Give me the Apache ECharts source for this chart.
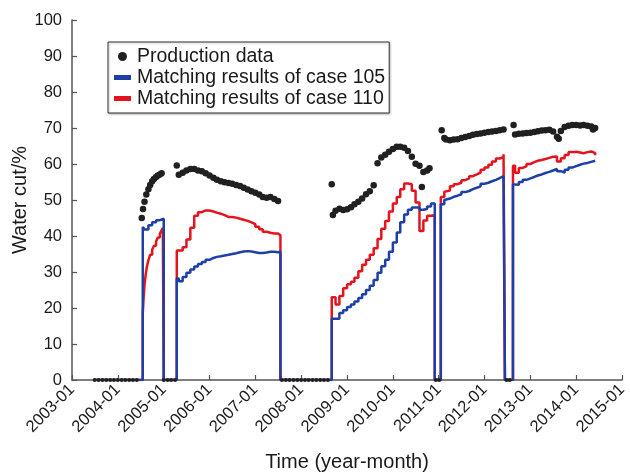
<!DOCTYPE html>
<html>
<head>
<meta charset="utf-8">
<style>
  html, body { margin: 0; padding: 0; background: #ffffff; }
  #chart { width: 630px; height: 472px; }
</style>
<script src="https://cdn.jsdelivr.net/npm/echarts@6/dist/echarts.min.js"></script>
</head>
<body>
<div id="chart"></div>
<script>
// Water cut history of the well: measured production data and two simulation cases.
const seriesNames = ['Production data', 'Matching results of case 105', 'Matching results of case 110'];

// Measured water cut (%), [date, value]
const productionData = [
  ['2003-07',0],['2003-08',0],['2003-09',0],['2003-10',0],['2003-11',0],['2003-12',0],
  ['2004-01',0],['2004-02',0],['2004-03',0],['2004-04',0],['2004-05',0],['2004-06',0],
  ['2004-07-10',45.0],['2004-07-20',47.5],['2004-08-01',49.5],['2004-08-15',51.5],['2004-09-01',53.0],
  ['2004-09-15',54.2],['2004-10-01',55.2],['2004-10-15',55.8],['2004-11-01',56.4],['2004-11-15',56.8],
  ['2004-12-01',57.1],['2004-12-15',57.4],
  ['2005-01',0],['2005-02',0],['2005-03',0],['2005-04',0],
  ['2005-04-15',59.6],['2005-05',57.0],['2005-06',57.6],['2005-07',58.2],['2005-08',58.6],['2005-09',58.6],
  ['2005-10',58.2],['2005-11',58.0],['2005-12',57.4],
  ['2006-01',56.8],['2006-02',56.2],['2006-03',55.6],['2006-04',55.2],['2006-05',54.9],['2006-06',54.7],
  ['2006-07',54.5],['2006-08',54.2],['2006-09',53.9],['2006-10',53.4],['2006-11',52.9],['2006-12',52.4],
  ['2007-01',52.0],['2007-02',51.5],['2007-03',50.8],['2007-04',50.6],['2007-05',50.8],['2007-06',50.3],
  ['2007-07',49.7],
  ['2007-08',0],['2007-09',0],['2007-10',0],['2007-11',0],['2007-12',0],['2008-01',0],['2008-02',0],
  ['2008-03',0],['2008-04',0],['2008-05',0],['2008-06',0],['2008-07',0],['2008-08',0],
  ['2008-09-01',54.4],['2008-09-10',45.8],['2008-10',47.0],['2008-11',47.6],['2008-12',47.2],
  ['2009-01',47.4],['2009-02',48.0],['2009-03',48.8],['2009-04',49.5],['2009-05',50.4],['2009-06',51.6],
  ['2009-07',52.4],['2009-08',54.1],['2009-09',60.2],['2009-10',61.8],['2009-11',62.6],['2009-12',63.4],
  ['2010-01',64.2],['2010-02',64.8],['2010-03',64.8],['2010-04',64.5],['2010-05',63.6],['2010-06',62.0],
  ['2010-07',60.1],['2010-08',59.5],['2010-08-20',53.6],['2010-09',57.8],['2010-10',58.2],['2010-10-20',58.8],
  ['2010-12-10',0],['2011-01-05',0],
  ['2011-01-25',69.4],['2011-02-15',67.2],['2011-03',66.8],['2011-04',66.6],['2011-05',66.8],['2011-06',66.9],
  ['2011-07',67.2],['2011-08',67.5],['2011-09',67.8],['2011-10',68.1],['2011-11',68.3],['2011-12',68.5],
  ['2012-01',68.7],['2012-02',68.9],['2012-03',69.0],['2012-04',69.2],['2012-05',69.4],['2012-06',69.6],
  ['2012-06-25',0],['2012-07-20',0],
  ['2012-08-20',70.8],['2012-09',68.2],['2012-10',68.4],['2012-11',68.5],['2012-12',68.6],
  ['2013-01',68.7],['2013-02',68.9],['2013-03',69.1],['2013-04',69.3],['2013-05',69.4],['2013-06',69.5],
  ['2013-07',69.0],['2013-08',67.6],['2013-08-15',67.0],['2013-09',69.2],['2013-10',70.3],['2013-11',70.6],
  ['2013-12',70.8],['2014-01',70.8],['2014-02',70.7],['2014-03',70.8],['2014-04',70.6],['2014-05',70.4],
  ['2014-05-15',69.6],['2014-06',70.0]
];

// Simulated water cut, case 105 (%), [date, value]
const case105 = [
  ['2003-07',0],
  ['2004-07-18',42.5],['2004-08',41.8],['2004-09',43.0],['2004-10',43.8],['2004-11',44.4],['2004-12',44.8],
  ['2005-01',0],
  ['2005-04-15',28.2],['2005-05',27.4],['2005-06',28.6],['2005-07',29.8],['2005-08',30.7],['2005-09',31.5],
  ['2005-10',32.2],['2005-11',32.8],['2005-12',33.4],
  ['2006-01',33.9],['2006-02',34.2],['2006-03',34.4],['2006-04',34.6],['2006-05',34.8],['2006-06',35.0],
  ['2006-07',35.2],['2006-08',35.5],['2006-09',35.7],['2006-10',35.8],['2006-11',35.7],['2006-12',35.5],
  ['2007-01',35.3],['2007-02',35.3],['2007-03',35.4],['2007-04',35.6],['2007-05',35.6],['2007-06',35.5],
  ['2007-07',35.6],
  ['2007-07-20',0],
  ['2008-09',17.0],['2008-10',17.0],['2008-11',18.6],['2008-12',19.4],
  ['2009-01',20.3],['2009-02',21.0],['2009-03',21.8],['2009-04',22.8],['2009-05',23.8],['2009-06',25.0],
  ['2009-07',26.2],['2009-08',27.8],['2009-09',29.8],['2009-10',31.6],['2009-11',33.4],['2009-12',35.6],
  ['2010-01',38.2],['2010-02',41.0],['2010-03',43.8],['2010-04',46.0],['2010-05',47.3],['2010-06',47.9],
  ['2010-07',47.9],['2010-08',47.3],['2010-09',47.5],['2010-10',48.2],['2010-11',49.0],
  ['2010-12',0],
  ['2011-01-18',48.8],['2011-02-15',50.0],['2011-03',50.4],['2011-04',50.9],['2011-05',51.2],['2011-06',51.6],
  ['2011-07',52.2],['2011-08',52.5],['2011-09',53.0],['2011-10',53.4],['2011-11',53.8],['2011-12',54.5],
  ['2012-01',54.8],['2012-02',55.2],['2012-03',55.6],['2012-04',56.1],['2012-05',56.6],['2012-06',57.1],
  ['2012-06-12',0],
  ['2012-08-15',54.3],['2012-09',54.2],['2012-10',55.0],['2012-11',55.6],['2012-12',56.0],
  ['2013-01',56.4],['2013-02',56.8],['2013-03',57.1],['2013-04',57.5],['2013-05',57.8],['2013-06',58.2],
  ['2013-07',58.6],['2013-08',58.0],['2013-09',57.6],['2013-10',58.4],['2013-11',59.0],['2013-12',59.4],
  ['2014-01',59.8],['2014-02',60.1],['2014-03',60.3],['2014-04',60.6],['2014-05',60.9],['2014-06',61.0]
];

// Simulated water cut, case 110 (%), [date, value]
const case110 = [
  ['2003-07',0],
  ['2004-07-18',18.5],['2004-07-25',23.0],['2004-08-01',26.5],['2004-08-10',29.2],['2004-08-20',31.5],
  ['2004-09-01',33.3],['2004-09-15',34.8],['2004-10-01',36.2],['2004-10-15',37.3],['2004-11-01',38.5],
  ['2004-11-15',39.6],['2004-12-01',40.6],['2004-12-15',41.6],['2004-12-25',42.2],
  ['2005-01',0],
  ['2005-04-15',36.0],['2005-05',36.0],['2005-06',36.9],['2005-07',39.0],['2005-08',42.3],['2005-09',45.6],
  ['2005-10',46.6],['2005-11',47.1],['2005-12',47.1],
  ['2006-01',46.8],['2006-02',46.5],['2006-03',46.2],['2006-04',45.8],['2006-05',45.3],['2006-06',45.3],
  ['2006-07',45.1],['2006-08',44.8],['2006-09',44.5],['2006-10',44.2],['2006-11',43.8],['2006-12',43.3],
  ['2007-01',42.6],['2007-02',41.9],['2007-03',41.2],['2007-04',40.9],['2007-05',40.7],['2007-06',40.7],
  ['2007-07',40.2],
  ['2007-07-20',0],
  ['2008-09',23.0],['2008-10',21.0],['2008-11',23.3],['2008-12',25.5],
  ['2009-01',26.6],['2009-02',27.3],['2009-03',28.4],['2009-04',30.2],['2009-05',32.0],['2009-06',33.4],
  ['2009-07',34.8],['2009-08',36.6],['2009-09',39.2],['2009-10',42.0],['2009-11',44.2],['2009-12',46.8],
  ['2010-01',49.0],['2010-02',50.8],['2010-03',53.0],['2010-04',54.6],['2010-05',54.4],['2010-06',52.6],
  ['2010-07',49.3],['2010-08',41.4],['2010-09',44.3],['2010-10',45.6],['2010-11',45.8],
  ['2010-12',0],
  ['2011-01-18',50.8],['2011-02-15',52.3],['2011-03',52.6],['2011-04',53.8],['2011-05',54.4],['2011-06',54.8],
  ['2011-07',55.5],['2011-08',56.0],['2011-09',56.6],['2011-10',57.1],['2011-11',57.6],['2011-12',58.4],
  ['2012-01',59.0],['2012-02',59.8],['2012-03',60.7],['2012-04',61.5],['2012-05',62.0],['2012-06',62.7],
  ['2012-06-12',0],
  ['2012-08-15',59.5],['2012-09',57.6],['2012-10',58.9],['2012-11',59.4],['2012-12',60.0],
  ['2013-01',60.5],['2013-02',60.9],['2013-03',61.1],['2013-04',61.4],['2013-05',61.7],['2013-06',62.0],
  ['2013-07',62.1],['2013-08',60.7],['2013-09',61.6],['2013-10',62.5],['2013-11',63.3],['2013-12',63.4],
  ['2014-01',63.2],['2014-02',63.0],['2014-03',63.3],['2014-04',63.5],['2014-05',63.0],['2014-06',62.4]
];

const xRange = ['2003-01-01', '2015-01-01'];
const yRange = [0, 100, 10];

const FONT = '"Liberation Sans", Arial, Helvetica, sans-serif';
const TEXT = '#1a1a1a';
const AXIS = '#555555';
const BLUE = '#1d3fa6';
const RED = '#e3141e';
const BLACK = '#202020';
const ONE_YEAR = 365.25 * 24 * 3600 * 1000;
const BAR_ICON = 'path://M0,0L0,0M0,2L17,2L17,7L0,7ZM17,9L17,9';

const chart = echarts.init(document.getElementById('chart'), null, { renderer: 'canvas' });

chart.setOption({
  animation: false,
  backgroundColor: '#ffffff',
  textStyle: { fontFamily: FONT },
  grid: { left: 72, right: 8, top: 20, bottom: 92, containLabel: false, outerBoundsMode: 'none' },
  legend: {
    orient: 'vertical',
    left: 108,
    top: 42,
    padding: [4, 4, 4, 6],
    itemWidth: 17,
    itemHeight: 9,
    itemGap: 0,
    borderColor: '#333333',
    borderWidth: 1,
    backgroundColor: '#ffffff',
    shadowColor: 'rgba(0,0,0,0.25)',
    shadowBlur: 2,
    shadowOffsetX: 1,
    shadowOffsetY: 1,
    itemStyle: { borderWidth: 0 },
    textStyle: { fontFamily: FONT, fontSize: 19.5, lineHeight: 21, color: TEXT, padding: [0, 0, 0, 1] },
    data: [
      { name: seriesNames[0], icon: 'circle' },
      { name: seriesNames[1], icon: BAR_ICON },
      { name: seriesNames[2], icon: BAR_ICON }
    ]
  },
  xAxis: {
    type: 'time',
    min: xRange[0],
    max: xRange[1],
    splitNumber: 12,
    minInterval: ONE_YEAR * 0.9,
    maxInterval: ONE_YEAR * 1.1,
    name: 'Time (year-month)',
    nameLocation: 'middle',
    nameGap: 72,
    nameMoveOverlap: false,
    nameTextStyle: { fontFamily: FONT, fontSize: 20, color: TEXT },
    axisLine: { show: true, lineStyle: { color: AXIS, width: 1.5 } },
    axisTick: { show: true, inside: true, length: 5, lineStyle: { color: AXIS, width: 1.2 } },
    minorTick: { show: false },
    splitLine: { show: false },
    axisLabel: {
      rotate: 45,
      margin: 7,
      fontFamily: FONT,
      fontSize: 16.5,
      color: TEXT,
      showMinLabel: true,
      showMaxLabel: true,
      hideOverlap: false,
      formatter: function (val) {
        const d = new Date(val);
        const m = d.getMonth() + 1;
        return d.getFullYear() + '-' + (m < 10 ? '0' + m : m);
      }
    }
  },
  yAxis: {
    type: 'value',
    min: yRange[0],
    max: yRange[1],
    interval: yRange[2],
    name: 'Water cut/%',
    nameLocation: 'middle',
    nameGap: 42,
    nameMoveOverlap: false,
    nameTextStyle: { fontFamily: FONT, fontSize: 20, color: TEXT },
    axisLine: { show: true, lineStyle: { color: AXIS, width: 1.5 } },
    axisTick: { show: true, inside: true, length: 5, lineStyle: { color: AXIS, width: 1.2 } },
    splitLine: { show: false },
    axisLabel: { margin: 10, fontFamily: FONT, fontSize: 16.5, color: TEXT }
  },
  series: [
    {
      name: seriesNames[2],
      type: 'line',
      step: 'end',
      data: case110,
      showSymbol: false,
      symbol: 'none',
      color: RED,
      lineStyle: { color: RED, width: 2.5 },
      z: 2
    },
    {
      name: seriesNames[1],
      type: 'line',
      step: 'end',
      data: case105,
      showSymbol: false,
      symbol: 'none',
      color: BLUE,
      lineStyle: { color: BLUE, width: 2.5 },
      z: 3
    },
    {
      name: seriesNames[0],
      type: 'scatter',
      data: productionData,
      symbol: 'circle',
      symbolSize: function (v) { return v[1] === 0 ? 4 : 6.5; },
      color: BLACK,
      itemStyle: { color: BLACK, opacity: 1 },
      z: 4
    }
  ]
});
</script>
</body>
</html>
